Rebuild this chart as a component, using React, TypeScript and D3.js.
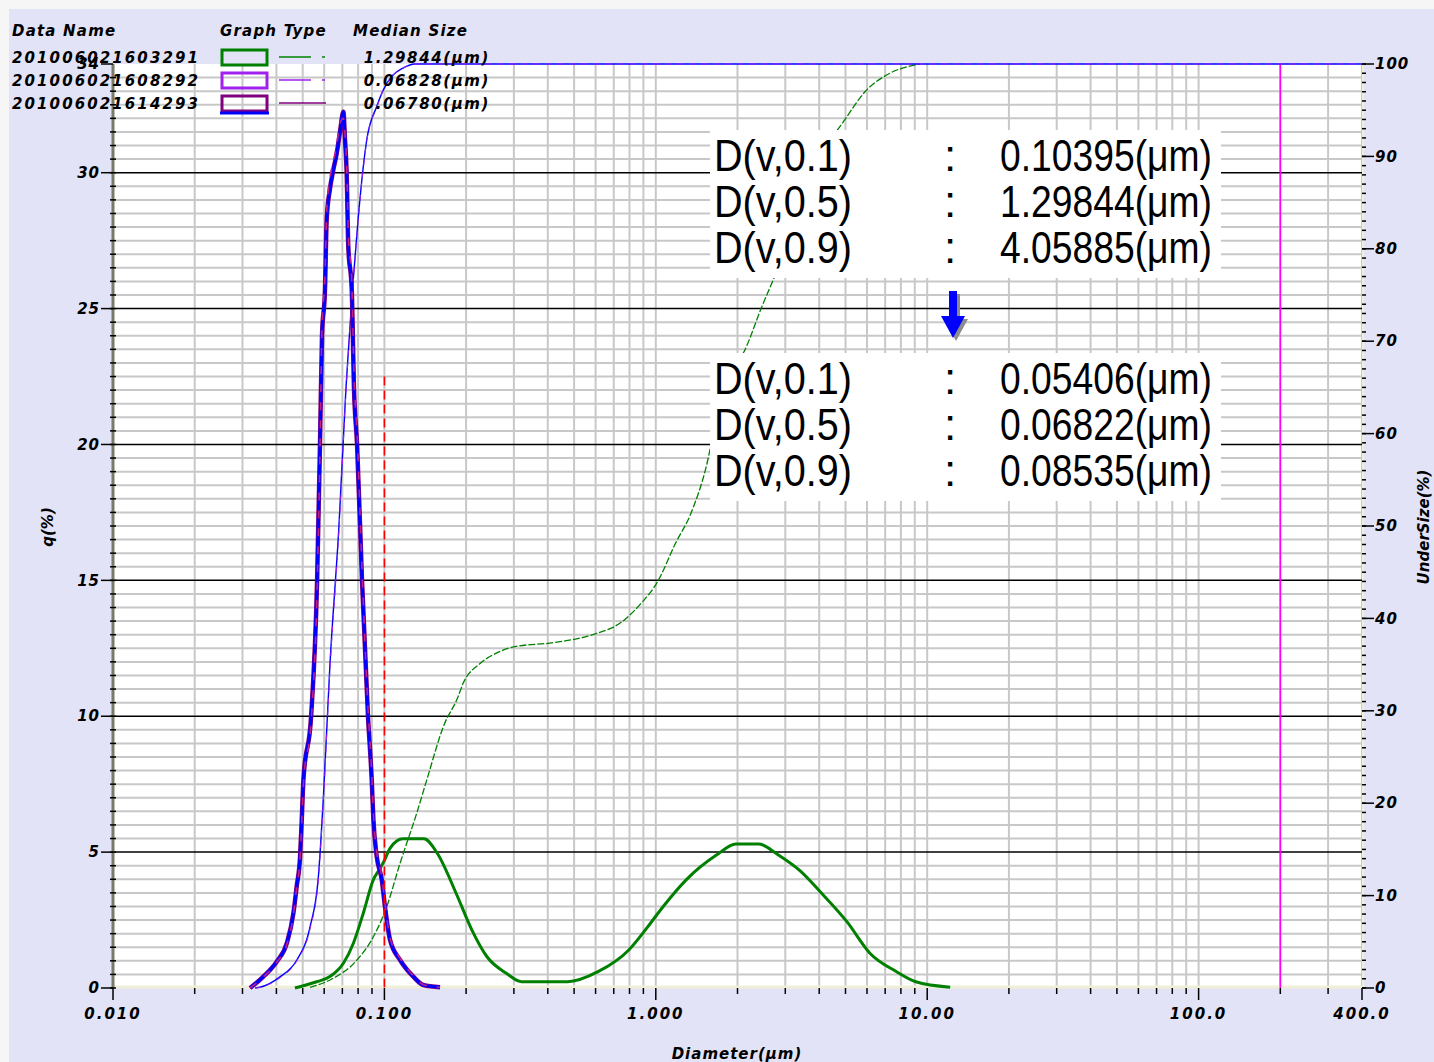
import React from "react";
import * as d3 from "d3";

const W = 1434;
const H = 1062;
const PL = 113, PR = 1362, PT = 64, PB = 988;

// ---- legend ----
const legendNames = ["201006021603291", "201006021608292", "201006021614293"];
const legendMedians = ["1.29844(μm)", "0.06828(μm)", "0.06780(μm)"];
const legendColors = ["#008000", "#a020f0", "#800080"];

// ---- axis ticks ----
const xLabelValues = [0.01, 0.1, 1, 10, 100, 400];
const xLabelTexts = ["0.010", "0.100", "1.000", "10.00", "100.0", "400.0"];
const qLabelValues = [0, 5, 10, 15, 20, 25, 30, 34];
const uLabelValues = [0, 10, 20, 30, 40, 50, 60, 70, 80, 90, 100];

// ---- sample 1 (green) frequency q(%) ----
const greenQDiam = [0.0468, 0.0563, 0.063, 0.0706, 0.0768, 0.0836, 0.091, 0.0964, 0.0995, 0.105, 0.1171, 0.1399, 0.1568, 0.1844, 0.2099, 0.2388, 0.2813, 0.3203, 0.4728, 0.6124, 0.7954, 0.9352, 1.065, 1.294, 1.678, 1.973, 2.399, 2.82, 3.428, 4.027, 5.06, 6.15, 7.71, 9.08, 12.15];
const greenQ = [0.0, 0.23, 0.42, 0.91, 1.64, 2.75, 3.98, 4.4, 4.65, 5.15, 5.49, 5.49, 4.95, 3.45, 2.14, 1.15, 0.54, 0.23, 0.23, 0.6, 1.4, 2.26, 3.0, 3.98, 4.9, 5.3, 5.3, 4.9, 4.28, 3.55, 2.44, 1.28, 0.6, 0.23, 0.03];

// ---- sample 1 (green) undersize ----
const greenUDiam = [0.0532, 0.063, 0.0791, 0.0911, 0.102, 0.1142, 0.1315, 0.1432, 0.166, 0.1858, 0.195, 0.2258, 0.2656, 0.3023, 0.4183, 0.579, 0.7508, 0.8829, 1.012, 1.182, 1.347, 1.534, 1.689, 1.862, 2.156, 2.456, 2.705, 3.3, 4.06, 4.98, 5.9, 7.29, 9.41];
const greenU = [0.08, 0.87, 3.0, 5.55, 8.8, 13.5, 18.9, 22.5, 28.5, 31.35, 32.97, 35.14, 36.4, 36.94, 37.37, 38.2, 39.64, 41.63, 43.9, 48.13, 51.37, 56.42, 62.2, 65.8, 69.4, 73.7, 76.6, 83.0, 90.0, 94.0, 97.0, 99.0, 100.0];

// ---- samples 2 & 3 frequency q(%) ----
const fineQDiam = [0.032, 0.0358, 0.0401, 0.0437, 0.0462, 0.0475, 0.0489, 0.0496, 0.0503, 0.0537, 0.0565, 0.0579, 0.0589, 0.0604, 0.0613, 0.063, 0.0648, 0.0667, 0.0686, 0.0706, 0.0716, 0.0726, 0.0736, 0.0758, 0.0773, 0.0793, 0.0827, 0.087, 0.0898, 0.0911, 0.0937, 0.0978, 0.1005, 0.1049, 0.1142, 0.1278, 0.1391, 0.1603];
const sample3Q = [0.0, 0.42, 0.97, 1.65, 2.75, 3.73, 4.84, 6.19, 7.66, 10.0, 15.0, 20.0, 24.0, 25.7, 28.3, 29.4, 30.1, 30.7, 31.5, 32.24, 31.2, 30.0, 27.3, 25.7, 22.0, 20.0, 15.0, 10.0, 7.66, 6.19, 4.84, 3.98, 2.99, 1.77, 1.03, 0.42, 0.11, 0.03];
const sample2Q = [0.0, 0.4, 0.95, 1.6, 2.7, 3.7, 4.8, 6.1, 7.5, 9.8, 14.7, 19.8, 24.3, 26.2, 28.6, 29.8, 30.4, 31.0, 31.8, 32.0, 31.4, 30.3, 27.8, 26.0, 22.5, 20.4, 15.4, 10.3, 7.9, 6.4, 5.0, 4.1, 3.1, 1.85, 1.1, 0.45, 0.12, 0.03];

// ---- samples 2 & 3 undersize ----
const fineUDiam = [0.0334, 0.0348, 0.0412, 0.0475, 0.0532, 0.0571, 0.0596, 0.063, 0.068, 0.0722, 0.076, 0.0799, 0.0836, 0.0861, 0.0937, 0.0991, 0.1067, 0.1161, 0.1296, 400];
const sample3U = [0.0, 0.08, 1.2, 3.0, 6.6, 12.0, 20.7, 35.0, 50.0, 65.0, 75.0, 83.0, 88.9, 91.8, 95.4, 97.2, 98.7, 99.5, 100.0, 100.0];
const sample2U = [0.0, 0.07, 1.1, 2.9, 6.4, 11.7, 20.3, 34.4, 49.5, 64.6, 74.7, 82.8, 88.7, 91.7, 95.3, 97.2, 98.7, 99.5, 100.0, 100.0];

// ---- markers ----
const redMarkerDiam = 0.1;
const redMarkerTopQ = 22.5;
const magentaMarkerDiam = 200;

// ---- statistics text ----
const statLabels = ["D(v,0.1)", "D(v,0.5)", "D(v,0.9)"];
const statsBefore = ["0.10395(μm)", "1.29844(μm)", "4.05885(μm)"];
const statsAfter = ["0.05406(μm)", "0.06822(μm)", "0.08535(μm)"];

const AX_FONT = "'DejaVu Sans', Verdana, sans-serif";

export default function App() {
  const x = d3.scaleLog().domain([0.01, 400]).range([PL, PR]);
  const yq = d3.scaleLinear().domain([0, 34]).range([PB, PT]);
  const yu = d3.scaleLinear().domain([0, 100]).range([PB, PT]);

  const mkLine = (ds: number[], vs: number[], ys: d3.ScaleLinear<number, number>) =>
    d3
      .line<number>()
      .curve(d3.curveMonotoneX)
      .x((_, i) => x(ds[i]))
      .y((v) => ys(v))(vs) || "";

  const xTicks = x.ticks().filter((t) => t >= 0.01 && t <= 400);
  const majorX = new Set(xLabelValues.map((v) => +v.toPrecision(6)));
  const hGrid = d3.range(1, 68).map((k) => k * 0.5);
  const uMinor = d3.range(0, 101);

  const labelStyle: React.CSSProperties = {
    fontFamily: AX_FONT,
    fontWeight: 700,
    fontStyle: "italic",
    fontSize: 15,
  };

  const boxFont = "'Liberation Sans', Arial, sans-serif";

  const statBlock = (top: number, values: string[]) => (
    <g>
      <rect x={710} y={top} width={511} height={148} fill="#ffffff" />
      {statLabels.map((lab, i) => {
        const base = top + 41 + i * 46;
        return (
          <g key={lab}>
            <text x={714} y={base} fontFamily={boxFont} fontSize={44} textLength={138} lengthAdjust="spacingAndGlyphs" fill="#000">
              {lab}
            </text>
            <text x={950} y={base} fontFamily={boxFont} fontSize={44} textAnchor="middle" fill="#000">
              :
            </text>
            <text x={1000} y={base} fontFamily={boxFont} fontSize={44} textLength={212} lengthAdjust="spacingAndGlyphs" fill="#000">
              {values[i]}
            </text>
          </g>
        );
      })}
    </g>
  );

  return (
    <svg width={W} height={H} style={{ position: "absolute", left: 0, top: 0, display: "block" }}>
      <rect x={0} y={0} width={W} height={H} fill="#f6f6f6" />
      <rect x={9} y={9} width={W - 9} height={H - 9} fill="#e3e3f7" />
      {/* plot area */}
      <rect x={PL} y={PT} width={PR - PL} height={PB - PT} fill="#ffffff" />

      {/* vertical grid */}
      {xTicks.map((t) => (
        <line key={"vg" + t} x1={x(t)} x2={x(t)} y1={PT} y2={PB} stroke="#c8c8c8" strokeWidth={2} />
      ))}
      {/* horizontal grid */}
      {hGrid.map((v) =>
        v % 5 === 0 ? null : (
          <line key={"hg" + v} x1={PL} x2={PR} y1={yq(v)} y2={yq(v)} stroke="#c8c8c8" strokeWidth={2} />
        )
      )}
      {hGrid
        .filter((v) => v % 5 === 0)
        .map((v) => (
          <line key={"hb" + v} x1={PL} x2={PR} y1={yq(v)} y2={yq(v)} stroke="#000" strokeWidth={1.5} />
        ))}
      <line x1={PL} x2={PR} y1={PB - 1} y2={PB - 1} stroke="#efefd8" strokeWidth={3} />

      {/* magenta marker */}
      <line x1={x(magentaMarkerDiam)} x2={x(magentaMarkerDiam)} y1={PT} y2={PB} stroke="#ff00ff" strokeWidth={1.6} />

      {/* green curves */}
      <path d={mkLine(greenUDiam, greenU, yu)} fill="none" stroke="#008000" strokeWidth={1.3} strokeDasharray="7 2" />
      <path d={mkLine(greenQDiam, greenQ, yq)} fill="none" stroke="#008000" strokeWidth={3} strokeLinejoin="round" />

      {/* samples 2/3 cumulative */}
      <path d={mkLine(fineUDiam, sample3U, yu)} fill="none" stroke="#0000ff" strokeWidth={1.4} />
      <path d={mkLine(fineUDiam, sample2U, yu)} fill="none" stroke="#a020f0" strokeWidth={1} strokeDasharray="6 6" />

      {/* samples 2/3 frequency */}
      <path d={mkLine(fineQDiam, sample3Q, yq)} fill="none" stroke="#800080" strokeWidth={4.5} strokeLinejoin="round" />
      <path d={mkLine(fineQDiam, sample3Q, yq)} fill="none" stroke="#0000ff" strokeWidth={3.2} strokeLinejoin="round" />
      <path d={mkLine(fineQDiam, sample2Q, yq)} fill="none" stroke="#c0208a" strokeWidth={1.6} strokeDasharray="8 10" />

      {/* red marker */}
      <line x1={x(redMarkerDiam)} x2={x(redMarkerDiam)} y1={yq(redMarkerTopQ)} y2={PB} stroke="#ff0000" strokeWidth={1.6} strokeDasharray="9 5" />

      {/* left axis */}
      <line x1={PL} x2={PL} y1={PT} y2={PB} stroke="#7a7a68" strokeWidth={3} />
      {hGrid.concat([0]).map((v) => (
        <line key={"lt" + v} x1={PL - 3} x2={PL + 3} y1={yq(v)} y2={yq(v)} stroke="#000" strokeWidth={1.5} />
      ))}
      {qLabelValues.map((v) => (
        <g key={"ql" + v}>
          <line x1={PL - 12} x2={PL} y1={yq(v)} y2={yq(v)} stroke="#000" strokeWidth={1.5} />
          <text x={PL - 13} y={yq(v)} dy="0.35em" textAnchor="end" style={{ ...labelStyle, letterSpacing: 1 }} fill="#000">
            {v}
          </text>
        </g>
      ))}

      {/* right axis */}
      <line x1={PR + 1} x2={PR + 1} y1={PT} y2={PB} stroke="#f0f0d8" strokeWidth={2} />
      {uMinor.map((v) => (
        <line key={"rt" + v} x1={PR} x2={PR + 4} y1={yu(v)} y2={yu(v)} stroke="#000" strokeWidth={1.5} />
      ))}
      {uLabelValues.map((v) => (
        <g key={"ul" + v}>
          <line x1={PR} x2={PR + 12} y1={yu(v)} y2={yu(v)} stroke="#000" strokeWidth={1.5} />
          <text x={PR + 13} y={yu(v)} dy="0.35em" textAnchor="start" style={{ ...labelStyle, letterSpacing: 1 }} fill="#000">
            {v}
          </text>
        </g>
      ))}

      {/* bottom axis */}
      {xTicks.map((t) => {
        const major = majorX.has(+t.toPrecision(6));
        return (
          <line key={"bt" + t} x1={x(t)} x2={x(t)} y1={PB} y2={PB + (major ? 12 : 6)} stroke="#000" strokeWidth={1.5} />
        );
      })}
      {xLabelValues.map((v, i) => (
        <text key={"xl" + v} x={x(v)} y={1019} textAnchor="middle" style={{ ...labelStyle, letterSpacing: 2 }} fill="#000">
          {xLabelTexts[i]}
        </text>
      ))}

      {/* axis titles */}
      <text x={737} y={1059} textAnchor="middle" style={{ ...labelStyle, letterSpacing: 1 }} fill="#000">
        Diameter(μm)
      </text>
      <text transform="translate(53,527) rotate(-90)" textAnchor="middle" style={labelStyle} fill="#000">
        q(%)
      </text>
      <text transform="translate(1429,527) rotate(-90)" textAnchor="middle" style={labelStyle} fill="#000">
        UnderSize(%)
      </text>

      {/* statistics boxes */}
      {statBlock(130, statsBefore)}
      {statBlock(353, statsAfter)}

      {/* arrow */}
      <g transform="translate(3,3)">
        <path d="M949,291 L957,291 L957,316 L965,316 L953,338 L941,316 L949,316 Z" fill="#8c8c8c" />
      </g>
      <path d="M949,291 L957,291 L957,316 L965,316 L953,338 L941,316 L949,316 Z" fill="#0000ff" />

      {/* legend */}
      <g>
        <text x={12} y={36} style={{ ...labelStyle, letterSpacing: 1.2 }} fill="#000">Data Name</text>
        <text x={220} y={36} style={{ ...labelStyle, letterSpacing: 1.2 }} fill="#000">Graph Type</text>
        <text x={353} y={36} style={{ ...labelStyle, letterSpacing: 1.2 }} fill="#000">Median Size</text>
        {legendNames.map((n, i) => {
          const cy = 57 + i * 23;
          const c = legendColors[i];
          return (
            <g key={n}>
              <text x={12} y={cy + 6} style={{ ...labelStyle, letterSpacing: 2.1 }} fill="#000">
                {n}
              </text>
              <rect x={222} y={cy - 7} width={45} height={15} fill="none" stroke={c} strokeWidth={3} />
              {i < 2 ? (
                <>
                  <line x1={279} x2={311} y1={cy} y2={cy} stroke={c} strokeWidth={1.5} />
                  <line x1={322} x2={325} y1={cy} y2={cy} stroke={c} strokeWidth={1.5} />
                </>
              ) : (
                <line x1={279} x2={326} y1={cy} y2={cy} stroke={c} strokeWidth={1.5} />
              )}
              <text x={490} y={cy + 6} textAnchor="end" style={{ ...labelStyle, letterSpacing: 1.6 }} fill="#000">
                {legendMedians[i]}
              </text>
            </g>
          );
        })}
        <line x1={220} x2={269} y1={113} y2={113} stroke="#0000ff" strokeWidth={3} />
      </g>
    </svg>
  );
}
